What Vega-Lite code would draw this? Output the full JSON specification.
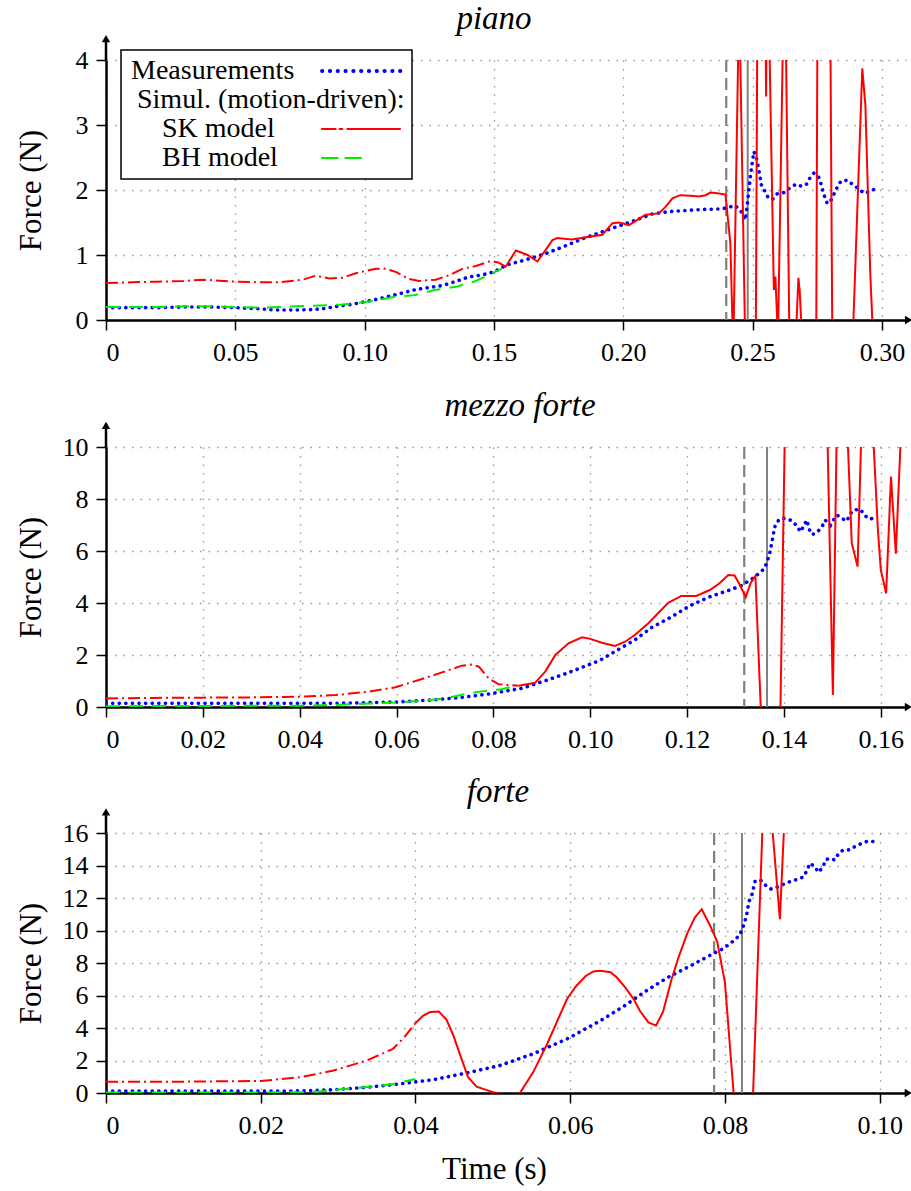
{
 "$schema": "https://vega.github.io/schema/vega-lite/v6.json",
 "padding": {"left": 15, "top": 2, "right": 2, "bottom": 2},
 "background": "white",
 "datasets": {
  "p_meas": [{"t":0,"F":0.19},{"t":0.01,"F":0.19},{"t":0.02,"F":0.19},{"t":0.03,"F":0.2},{"t":0.04,"F":0.2},{"t":0.05,"F":0.19},{"t":0.06,"F":0.17},{"t":0.065,"F":0.155},{"t":0.07,"F":0.155},{"t":0.075,"F":0.155},{"t":0.08,"F":0.16},{"t":0.085,"F":0.18},{"t":0.09,"F":0.215},{"t":0.095,"F":0.24},{"t":0.1,"F":0.28},{"t":0.105,"F":0.32},{"t":0.11,"F":0.37},{"t":0.115,"F":0.42},{"t":0.12,"F":0.47},{"t":0.125,"F":0.5},{"t":0.13,"F":0.53},{"t":0.135,"F":0.59},{"t":0.14,"F":0.66},{"t":0.145,"F":0.69},{"t":0.15,"F":0.74},{"t":0.155,"F":0.85},{"t":0.16,"F":0.9},{"t":0.165,"F":0.96},{"t":0.17,"F":1.02},{"t":0.175,"F":1.1},{"t":0.18,"F":1.18},{"t":0.185,"F":1.26},{"t":0.19,"F":1.33},{"t":0.1935,"F":1.38},{"t":0.2,"F":1.47},{"t":0.205,"F":1.54},{"t":0.211,"F":1.63},{"t":0.218,"F":1.67},{"t":0.2305,"F":1.7},{"t":0.2382,"F":1.71},{"t":0.2433,"F":1.76},{"t":0.246,"F":1.65},{"t":0.2472,"F":1.54},{"t":0.2485,"F":1.97},{"t":0.2491,"F":2.2},{"t":0.2498,"F":2.41},{"t":0.2505,"F":2.59},{"t":0.2514,"F":2.51},{"t":0.2524,"F":2.31},{"t":0.2534,"F":2.08},{"t":0.255,"F":1.96},{"t":0.2562,"F":1.87},{"t":0.2578,"F":1.86},{"t":0.2595,"F":1.94},{"t":0.262,"F":1.96},{"t":0.2647,"F":2.04},{"t":0.2668,"F":2.09},{"t":0.2687,"F":2.06},{"t":0.2707,"F":2.08},{"t":0.2719,"F":2.17},{"t":0.2737,"F":2.26},{"t":0.2755,"F":2.2},{"t":0.2764,"F":2.1},{"t":0.2771,"F":1.99},{"t":0.2779,"F":1.89},{"t":0.2789,"F":1.79},{"t":0.2804,"F":1.85},{"t":0.2816,"F":1.95},{"t":0.2828,"F":2.05},{"t":0.2842,"F":2.14},{"t":0.2868,"F":2.15},{"t":0.2888,"F":2.08},{"t":0.291,"F":2.02},{"t":0.293,"F":1.95},{"t":0.2955,"F":1.98},{"t":0.298,"F":2.03}],
  "p_sk": [{"t":0,"F":0.57,"phase":"pre"},{"t":0.01,"F":0.58,"phase":"pre"},{"t":0.02,"F":0.59,"phase":"pre"},{"t":0.03,"F":0.6,"phase":"pre"},{"t":0.0375,"F":0.62,"phase":"pre"},{"t":0.05,"F":0.59,"phase":"pre"},{"t":0.06,"F":0.58,"phase":"pre"},{"t":0.067,"F":0.58,"phase":"pre"},{"t":0.076,"F":0.62,"phase":"pre"},{"t":0.081,"F":0.68,"phase":"pre"},{"t":0.0864,"F":0.64,"phase":"pre"},{"t":0.0915,"F":0.65,"phase":"pre"},{"t":0.0966,"F":0.72,"phase":"pre"},{"t":0.1044,"F":0.79,"phase":"pre"},{"t":0.108,"F":0.79,"phase":"pre"},{"t":0.112,"F":0.74,"phase":"pre"},{"t":0.1172,"F":0.63,"phase":"pre"},{"t":0.121,"F":0.6,"phase":"pre"},{"t":0.1275,"F":0.62,"phase":"pre"},{"t":0.1327,"F":0.69,"phase":"pre"},{"t":0.138,"F":0.79,"phase":"pre"},{"t":0.143,"F":0.83,"phase":"pre"},{"t":0.1488,"F":0.91,"phase":"pre"},{"t":0.152,"F":0.88,"phase":"pre"},
   {"t":0.152,"F":0.88,"phase":"post"},{"t":0.1545,"F":0.82,"phase":"post"},{"t":0.1585,"F":1.07,"phase":"post"},{"t":0.163,"F":1.0,"phase":"post"},{"t":0.1668,"F":0.9,"phase":"post"},{"t":0.17,"F":1.08,"phase":"post"},{"t":0.1726,"F":1.23,"phase":"post"},{"t":0.1745,"F":1.26,"phase":"post"},{"t":0.18,"F":1.24,"phase":"post"},{"t":0.185,"F":1.27,"phase":"post"},{"t":0.1919,"F":1.31,"phase":"post"},{"t":0.1958,"F":1.49,"phase":"post"},{"t":0.1983,"F":1.5,"phase":"post"},{"t":0.2022,"F":1.46,"phase":"post"},{"t":0.2086,"F":1.62,"phase":"post"},{"t":0.2138,"F":1.64,"phase":"post"},{"t":0.2163,"F":1.74,"phase":"post"},{"t":0.219,"F":1.87,"phase":"post"},{"t":0.222,"F":1.92,"phase":"post"},{"t":0.226,"F":1.91,"phase":"post"},{"t":0.2292,"F":1.9,"phase":"post"},{"t":0.2318,"F":1.92,"phase":"post"},{"t":0.2337,"F":1.96,"phase":"post"},{"t":0.2363,"F":1.95,"phase":"post"},{"t":0.2395,"F":1.93,"phase":"post"},{"t":0.2414,"F":1.18,"phase":"post"},{"t":0.2425,"F":-0.5,"phase":"post"},{"t":0.2448,"F":5,"phase":"post"},{"t":0.2472,"F":-0.5,"phase":"post"},{"t":0.2512,"F":-0.5,"phase":"post"},{"t":0.252,"F":6,"phase":"post"},{"t":0.2547,"F":6,"phase":"post"},{"t":0.2552,"F":3.44,"phase":"post"},{"t":0.2557,"F":6,"phase":"post"},{"t":0.2582,"F":0.46,"phase":"post"},{"t":0.2588,"F":0.67,"phase":"post"},{"t":0.2598,"F":-0.3,"phase":"post"},{"t":0.2618,"F":4.5,"phase":"post"},{"t":0.2628,"F":4.5,"phase":"post"},{"t":0.2642,"F":-0.2,"phase":"post"},{"t":0.2668,"F":-0.2,"phase":"post"},{"t":0.2677,"F":0.65,"phase":"post"},{"t":0.2682,"F":0.45,"phase":"post"},{"t":0.269,"F":-0.2,"phase":"post"},{"t":0.2746,"F":-0.2,"phase":"post"},{"t":0.2752,"F":6,"phase":"post"},{"t":0.2798,"F":6,"phase":"post"},{"t":0.2808,"F":-0.2,"phase":"post"},{"t":0.2888,"F":-0.2,"phase":"post"},{"t":0.2924,"F":3.87,"phase":"post"},{"t":0.2936,"F":3.3,"phase":"post"},{"t":0.2955,"F":0.7,"phase":"post"},{"t":0.2965,"F":-0.2,"phase":"post"}],
  "p_bh": [{"t":0,"F":0.2},{"t":0.01,"F":0.2},{"t":0.02,"F":0.2},{"t":0.03,"F":0.21},{"t":0.04,"F":0.21},{"t":0.05,"F":0.2},{"t":0.06,"F":0.19},{"t":0.067,"F":0.2},{"t":0.076,"F":0.215},{"t":0.0864,"F":0.23},{"t":0.0915,"F":0.24},{"t":0.101,"F":0.28},{"t":0.112,"F":0.36},{"t":0.119,"F":0.38},{"t":0.127,"F":0.46},{"t":0.1353,"F":0.51},{"t":0.143,"F":0.6},{"t":0.1494,"F":0.72},{"t":0.153,"F":0.79}],
  "p_ev": [{"t":0.2398,"kind":"dashed"},{"t":0.2481,"kind":"solid"}],
  "p_ax": [{"t":0,"F":4,"end":"y0"},{"t":0,"F":4.28,"end":"y1"},{"t":0,"F":4.33,"end":"ytip"},{"t":0.3103,"F":0,"end":"xtip"}],
  "m_meas": [{"t":0,"F":0.14},{"t":0.01,"F":0.14},{"t":0.02,"F":0.14},{"t":0.03,"F":0.14},{"t":0.04,"F":0.14},{"t":0.0474,"F":0.14},{"t":0.0543,"F":0.17},{"t":0.0598,"F":0.19},{"t":0.0673,"F":0.27},{"t":0.0735,"F":0.37},{"t":0.079,"F":0.5},{"t":0.0859,"F":0.72},{"t":0.0907,"F":1.01},{"t":0.0955,"F":1.32},{"t":0.101,"F":1.72},{"t":0.1024,"F":1.84},{"t":0.1092,"F":2.58},{"t":0.1127,"F":3.06},{"t":0.1168,"F":3.47},{"t":0.1206,"F":3.9},{"t":0.1247,"F":4.24},{"t":0.1288,"F":4.5},{"t":0.1312,"F":4.67},{"t":0.1339,"F":4.99},{"t":0.136,"F":5.33},{"t":0.137,"F":5.85},{"t":0.1376,"F":6.42},{"t":0.1381,"F":6.93},{"t":0.139,"F":7.22},{"t":0.1403,"F":7.26},{"t":0.1416,"F":7.17},{"t":0.1427,"F":6.96},{"t":0.1434,"F":6.74},{"t":0.1441,"F":6.96},{"t":0.1447,"F":7.19},{"t":0.1451,"F":6.91},{"t":0.1456,"F":6.65},{"t":0.1463,"F":6.65},{"t":0.1473,"F":6.81},{"t":0.148,"F":6.99},{"t":0.1485,"F":7.19},{"t":0.1496,"F":6.99},{"t":0.1502,"F":7.19},{"t":0.151,"F":7.38},{"t":0.1519,"F":7.26},{"t":0.153,"F":7.15},{"t":0.1535,"F":7.38},{"t":0.1544,"F":7.58},{"t":0.1558,"F":7.6},{"t":0.1567,"F":7.36},{"t":0.1578,"F":7.22},{"t":0.159,"F":7.32}],
  "m_sk": [{"t":0,"F":0.33,"phase":"pre"},{"t":0.01,"F":0.35,"phase":"pre"},{"t":0.02,"F":0.36,"phase":"pre"},{"t":0.03,"F":0.37,"phase":"pre"},{"t":0.04,"F":0.4,"phase":"pre"},{"t":0.0474,"F":0.46,"phase":"pre"},{"t":0.0543,"F":0.59,"phase":"pre"},{"t":0.0598,"F":0.76,"phase":"pre"},{"t":0.0646,"F":1.04,"phase":"pre"},{"t":0.0694,"F":1.33,"phase":"pre"},{"t":0.0735,"F":1.59,"phase":"pre"},{"t":0.0756,"F":1.64,"phase":"pre"},{"t":0.077,"F":1.55,"phase":"pre"},{"t":0.079,"F":1.1,"phase":"pre"},{"t":0.0811,"F":0.87,"phase":"pre"},{"t":0.0852,"F":0.82,"phase":"pre"},
   {"t":0.0852,"F":0.82,"phase":"post"},{"t":0.0886,"F":0.93,"phase":"post"},{"t":0.0907,"F":1.36,"phase":"post"},{"t":0.0928,"F":2.0,"phase":"post"},{"t":0.0955,"F":2.45,"phase":"post"},{"t":0.0983,"F":2.68,"phase":"post"},{"t":0.1,"F":2.62,"phase":"post"},{"t":0.1024,"F":2.47,"phase":"post"},{"t":0.1051,"F":2.35,"phase":"post"},{"t":0.1072,"F":2.51,"phase":"post"},{"t":0.1092,"F":2.77,"phase":"post"},{"t":0.112,"F":3.22,"phase":"post"},{"t":0.1161,"F":4.01,"phase":"post"},{"t":0.1188,"F":4.27,"phase":"post"},{"t":0.1219,"F":4.27,"phase":"post"},{"t":0.1247,"F":4.5,"phase":"post"},{"t":0.1267,"F":4.76,"phase":"post"},{"t":0.1285,"F":5.08,"phase":"post"},{"t":0.1298,"F":5.06,"phase":"post"},{"t":0.1309,"F":4.69,"phase":"post"},{"t":0.1321,"F":4.22,"phase":"post"},{"t":0.1331,"F":4.76,"phase":"post"},{"t":0.1341,"F":5.04,"phase":"post"},{"t":0.1354,"F":-0.9,"phase":"post"},{"t":0.1392,"F":-0.9,"phase":"post"},{"t":0.1403,"F":12,"phase":"post"},{"t":0.1488,"F":12,"phase":"post"},{"t":0.1501,"F":0.46,"phase":"post"},{"t":0.151,"F":12,"phase":"post"},{"t":0.1528,"F":12,"phase":"post"},{"t":0.154,"F":6.3,"phase":"post"},{"t":0.1552,"F":5.4,"phase":"post"},{"t":0.1562,"F":12,"phase":"post"},{"t":0.158,"F":12,"phase":"post"},{"t":0.1594,"F":6.8,"phase":"post"},{"t":0.16,"F":5.27,"phase":"post"},{"t":0.1611,"F":4.37,"phase":"post"},{"t":0.1621,"F":8.86,"phase":"post"},{"t":0.1631,"F":5.9,"phase":"post"},{"t":0.1645,"F":12,"phase":"post"}],
  "m_bh": [{"t":0,"F":0.03},{"t":0.02,"F":0.04},{"t":0.04,"F":0.05},{"t":0.0474,"F":0.08},{"t":0.0543,"F":0.13},{"t":0.0598,"F":0.17},{"t":0.0646,"F":0.23},{"t":0.0701,"F":0.33},{"t":0.0742,"F":0.5},{"t":0.0783,"F":0.62},{"t":0.0817,"F":0.68},{"t":0.0852,"F":0.85}],
  "m_ev": [{"t":0.1318,"kind":"dashed"},{"t":0.1365,"kind":"solid"}],
  "m_ax": [{"t":0,"F":10,"end":"y0"},{"t":0,"F":10.7,"end":"y1"},{"t":0,"F":10.83,"end":"ytip"},{"t":0.1657,"F":0,"end":"xtip"}],
  "f_meas": [{"t":0,"F":0.12},{"t":0.01,"F":0.12},{"t":0.02,"F":0.12},{"t":0.0251,"F":0.13},{"t":0.0294,"F":0.2},{"t":0.0337,"F":0.35},{"t":0.038,"F":0.56},{"t":0.0423,"F":0.82},{"t":0.0466,"F":1.23},{"t":0.0509,"F":1.69},{"t":0.0552,"F":2.41},{"t":0.0596,"F":3.33},{"t":0.0639,"F":4.45},{"t":0.0669,"F":5.33},{"t":0.0699,"F":6.31},{"t":0.0725,"F":7.08},{"t":0.0755,"F":7.82},{"t":0.0781,"F":8.48},{"t":0.0798,"F":8.89},{"t":0.0811,"F":9.36},{"t":0.0819,"F":9.71},{"t":0.0825,"F":10.43},{"t":0.0828,"F":10.95},{"t":0.0831,"F":11.77},{"t":0.0835,"F":12.22},{"t":0.0837,"F":12.64},{"t":0.0839,"F":13.04},{"t":0.0846,"F":13.1},{"t":0.0852,"F":12.8},{"t":0.0859,"F":12.55},{"t":0.0869,"F":12.7},{"t":0.0878,"F":12.9},{"t":0.0886,"F":13.04},{"t":0.0895,"F":13.17},{"t":0.0902,"F":13.31},{"t":0.0906,"F":13.72},{"t":0.091,"F":14.14},{"t":0.0916,"F":13.93},{"t":0.0921,"F":13.58},{"t":0.0927,"F":13.93},{"t":0.093,"F":14.34},{"t":0.0935,"F":14.44},{"t":0.0942,"F":14.34},{"t":0.0947,"F":14.75},{"t":0.0953,"F":14.96},{"t":0.0961,"F":14.96},{"t":0.0968,"F":15.17},{"t":0.0977,"F":15.37},{"t":0.0985,"F":15.51},{"t":0.0993,"F":15.47}],
  "f_sk": [{"t":0,"F":0.7,"phase":"pre"},{"t":0.01,"F":0.7,"phase":"pre"},{"t":0.02,"F":0.74,"phase":"pre"},{"t":0.0251,"F":0.97,"phase":"pre"},{"t":0.0294,"F":1.38,"phase":"pre"},{"t":0.0337,"F":2.0,"phase":"pre"},{"t":0.0371,"F":2.72,"phase":"pre"},{"t":0.0385,"F":3.4,"phase":"pre"},{"t":0.04,"F":4.3,"phase":"pre"},
   {"t":0.04,"F":4.3,"phase":"post"},{"t":0.041,"F":4.77,"phase":"post"},{"t":0.0419,"F":4.98,"phase":"post"},{"t":0.043,"F":5.02,"phase":"post"},{"t":0.044,"F":4.52,"phase":"post"},{"t":0.0449,"F":3.54,"phase":"post"},{"t":0.0458,"F":2.3,"phase":"post"},{"t":0.0468,"F":0.97,"phase":"post"},{"t":0.0479,"F":0.39,"phase":"post"},{"t":0.0501,"F":0.04,"phase":"post"},{"t":0.0505,"F":0,"phase":"post"},{"t":0.052,"F":-0.3,"phase":"post"},{"t":0.0535,"F":0,"phase":"post"},{"t":0.0552,"F":1.27,"phase":"post"},{"t":0.057,"F":3.0,"phase":"post"},{"t":0.0596,"F":5.8,"phase":"post"},{"t":0.0608,"F":6.6,"phase":"post"},{"t":0.062,"F":7.2,"phase":"post"},{"t":0.063,"F":7.48,"phase":"post"},{"t":0.0639,"F":7.53,"phase":"post"},{"t":0.0652,"F":7.43,"phase":"post"},{"t":0.066,"F":7.12,"phase":"post"},{"t":0.0671,"F":6.5,"phase":"post"},{"t":0.0682,"F":5.78,"phase":"post"},{"t":0.069,"F":5.06,"phase":"post"},{"t":0.0701,"F":4.35,"phase":"post"},{"t":0.0711,"F":4.15,"phase":"post"},{"t":0.072,"F":5.0,"phase":"post"},{"t":0.0731,"F":7.0,"phase":"post"},{"t":0.074,"F":8.35,"phase":"post"},{"t":0.0751,"F":9.79,"phase":"post"},{"t":0.0761,"F":10.8,"phase":"post"},{"t":0.077,"F":11.31,"phase":"post"},{"t":0.0781,"F":10.28,"phase":"post"},{"t":0.079,"F":9.3,"phase":"post"},{"t":0.08,"F":6.79,"phase":"post"},{"t":0.0812,"F":-0.5,"phase":"post"},{"t":0.0836,"F":-0.5,"phase":"post"},{"t":0.0849,"F":17,"phase":"post"},{"t":0.086,"F":17,"phase":"post"},{"t":0.0871,"F":10.7,"phase":"post"},{"t":0.0877,"F":17,"phase":"post"},{"t":0.0885,"F":20,"phase":"post"}],
  "f_bh": [{"t":0,"F":0.03},{"t":0.02,"F":0.03},{"t":0.0251,"F":0.05},{"t":0.0272,"F":0.08},{"t":0.0294,"F":0.18},{"t":0.032,"F":0.29},{"t":0.0346,"F":0.41},{"t":0.0371,"F":0.55},{"t":0.04,"F":0.86}],
  "f_ev": [{"t":0.0786,"kind":"dashed"},{"t":0.0822,"kind":"solid"}],
  "f_ax": [{"t":0,"F":16,"end":"y0"},{"t":0,"F":17.1,"end":"y1"},{"t":0,"F":17.3,"end":"ytip"},{"t":0.1037,"F":0,"end":"xtip"}]
 },
 "vconcat": [
  {
   "width": 800, "height": 260,
   "title": {"text": "piano", "dx": -12},
   "encoding": {"x": {"field": "t", "type": "quantitative", "scale": {"domain": [0, 0.3093], "nice": false, "zero": false}, "axis": {"values": [0, 0.05, 0.1, 0.15, 0.2, 0.25, 0.3], "tickCount": 30, "labelExpr": "datum.value === 0 ? '0' : format(datum.value, '.2f')", "title": null}}},
   "layer": [
    {"data": {"name": "p_ev"}, "transform": [{"filter": "datum.kind === 'dashed'"}], "mark": {"type": "rule", "color": "#808080", "strokeWidth": 2.2, "strokeDash": [12, 6]}},
    {"data": {"name": "p_ev"}, "transform": [{"filter": "datum.kind === 'solid'"}], "mark": {"type": "rule", "color": "#808080", "strokeWidth": 2}},
    {"data": {"name": "p_meas"}, "mark": {"type": "line", "clip": true, "strokeWidth": 3.6, "strokeDash": [0.1, 6.5], "strokeCap": "round"},
     "encoding": {"y": {"field": "F", "type": "quantitative", "scale": {"domain": [0, 4], "nice": false, "zero": false}, "axis": {"values": [0, 1, 2, 3, 4], "tickCount": 30, "format": "d", "title": "Force (N)"}},
      "color": {"datum": "Measurements", "type": "nominal",
       "scale": {"domain": ["Measurements", "Simul. (motion-driven):", "SK model", "BH model"], "range": ["#0000ff", "#ffffff", "#ff0000", "#00ee00"]},
       "legend": {"orient": "none", "legendX": 15, "legendY": -10, "title": null,
        "labelFont": "Liberation Serif", "labelFontSize": 28, "labelColor": "black", "labelLimit": 600,
        "symbolSize": 6084, "symbolType": "stroke", "symbolStrokeWidth": 2.2,
        "clipHeight": 28, "rowPadding": 1, "padding": 7, "fillColor": "white", "strokeColor": "black",
        "encode": {
         "labels": {"update": {
          "x": {"signal": "datum.value === 'SK model' || datum.value === 'BH model' ? 34 : datum.value === 'Simul. (motion-driven):' ? 9 : 3"}}},
         "symbols": {"update": {
          "x": {"signal": "datum.value === 'Simul. (motion-driven):' ? 280 : 233"},
          "shape": {"signal": "datum.value === 'SK model' ? 'M-1,0H-0.65M-0.55,0H-0.48M-0.35,0H1' : datum.value === 'BH model' ? 'M-1,0H-0.6M-0.4,0H0' : datum.value === 'Measurements' ? 'M-1,0h0.01M-0.8,0h0.01M-0.6,0h0.01M-0.4,0h0.01M-0.2,0h0.01M0,0h0.01M0.2,0h0.01M0.4,0h0.01M0.6,0h0.01M0.8,0h0.01M1,0h0.01' : 'stroke'"},
          "strokeWidth": {"signal": "datum.value === 'Measurements' ? 3.8 : 2.2"},
          "strokeCap": {"value": "round"},
          "strokeDash": {"value": [1, 0]}}},
         "legend": {"update": {"strokeWidth": {"value": 1.5}}}
        }}}}},
    {"data": {"name": "p_sk"}, "transform": [{"filter": "datum.phase === 'pre'"}], "mark": {"type": "line", "clip": true, "strokeWidth": 2, "strokeDash": [12, 4, 2, 4]},
     "encoding": {"y": {"field": "F", "type": "quantitative", "scale": {"domain": [0, 4], "nice": false, "zero": false}},
      "color": {"datum": "SK model", "type": "nominal", "scale": {"domain": ["Measurements", "Simul. (motion-driven):", "SK model", "BH model"], "range": ["#0000ff", "#ffffff", "#ff0000", "#00ee00"]}}}},
    {"data": {"name": "p_sk"}, "transform": [{"filter": "datum.phase === 'post'"}], "mark": {"type": "line", "clip": true, "strokeWidth": 2},
     "encoding": {"y": {"field": "F", "type": "quantitative", "scale": {"domain": [0, 4], "nice": false, "zero": false}},
      "color": {"datum": "SK model", "type": "nominal", "scale": {"domain": ["Measurements", "Simul. (motion-driven):", "SK model", "BH model"], "range": ["#0000ff", "#ffffff", "#ff0000", "#00ee00"]}}}},
    {"data": {"name": "p_bh"}, "mark": {"type": "line", "clip": true, "strokeWidth": 2, "strokeDash": [14, 9]},
     "encoding": {"y": {"field": "F", "type": "quantitative", "scale": {"domain": [0, 4], "nice": false, "zero": false}},
      "color": {"datum": "BH model", "type": "nominal", "scale": {"domain": ["Measurements", "Simul. (motion-driven):", "SK model", "BH model"], "range": ["#0000ff", "#ffffff", "#ff0000", "#00ee00"]}}}},
    {"data": {"name": "p_ax"}, "transform": [{"filter": "datum.end === 'y0' || datum.end === 'y1'"}], "mark": {"type": "line", "color": "black", "strokeWidth": 2.5},
     "encoding": {"y": {"field": "F", "type": "quantitative"}}},
    {"data": {"name": "p_ax"}, "transform": [{"filter": "datum.end === 'ytip'"}], "mark": {"type": "point", "shape": "triangle-up", "filled": true, "color": "black", "opacity": 1, "size": 70},
     "encoding": {"y": {"field": "F", "type": "quantitative"}}},
    {"data": {"name": "p_ax"}, "transform": [{"filter": "datum.end === 'xtip'"}], "mark": {"type": "point", "shape": "triangle-right", "filled": true, "color": "black", "opacity": 1, "size": 70},
     "encoding": {"y": {"field": "F", "type": "quantitative"}}}
   ]
  },
  {
   "width": 800, "height": 260,
   "title": {"text": "mezzo forte", "dx": 14},
   "encoding": {"x": {"field": "t", "type": "quantitative", "scale": {"domain": [0, 0.1652], "nice": false, "zero": false}, "axis": {"values": [0, 0.02, 0.04, 0.06, 0.08, 0.1, 0.12, 0.14, 0.16], "tickCount": 30, "labelExpr": "datum.value === 0 ? '0' : format(datum.value, '.2f')", "title": null}}},
   "layer": [
    {"data": {"name": "m_ev"}, "transform": [{"filter": "datum.kind === 'dashed'"}], "mark": {"type": "rule", "color": "#808080", "strokeWidth": 2.2, "strokeDash": [12, 6]}},
    {"data": {"name": "m_ev"}, "transform": [{"filter": "datum.kind === 'solid'"}], "mark": {"type": "rule", "color": "#808080", "strokeWidth": 2}},
    {"data": {"name": "m_meas"}, "mark": {"type": "line", "clip": true, "color": "#0000ff", "strokeWidth": 3.6, "strokeDash": [0.1, 6.5], "strokeCap": "round"},
     "encoding": {"y": {"field": "F", "type": "quantitative", "scale": {"domain": [0, 10], "nice": false, "zero": false}, "axis": {"values": [0, 2, 4, 6, 8, 10], "tickCount": 30, "format": "d", "title": "Force (N)"}}}},
    {"data": {"name": "m_sk"}, "transform": [{"filter": "datum.phase === 'pre'"}], "mark": {"type": "line", "clip": true, "color": "#ff0000", "strokeWidth": 2, "strokeDash": [12, 4, 2, 4]},
     "encoding": {"y": {"field": "F", "type": "quantitative", "scale": {"domain": [0, 10], "nice": false, "zero": false}}}},
    {"data": {"name": "m_sk"}, "transform": [{"filter": "datum.phase === 'post'"}], "mark": {"type": "line", "clip": true, "color": "#ff0000", "strokeWidth": 2},
     "encoding": {"y": {"field": "F", "type": "quantitative", "scale": {"domain": [0, 10], "nice": false, "zero": false}}}},
    {"data": {"name": "m_bh"}, "mark": {"type": "line", "clip": true, "color": "#00ee00", "strokeWidth": 2, "strokeDash": [14, 9]},
     "encoding": {"y": {"field": "F", "type": "quantitative", "scale": {"domain": [0, 10], "nice": false, "zero": false}}}},
    {"data": {"name": "m_ax"}, "transform": [{"filter": "datum.end === 'y0' || datum.end === 'y1'"}], "mark": {"type": "line", "color": "black", "strokeWidth": 2.5},
     "encoding": {"y": {"field": "F", "type": "quantitative"}}},
    {"data": {"name": "m_ax"}, "transform": [{"filter": "datum.end === 'ytip'"}], "mark": {"type": "point", "shape": "triangle-up", "filled": true, "color": "black", "opacity": 1, "size": 70},
     "encoding": {"y": {"field": "F", "type": "quantitative"}}},
    {"data": {"name": "m_ax"}, "transform": [{"filter": "datum.end === 'xtip'"}], "mark": {"type": "point", "shape": "triangle-right", "filled": true, "color": "black", "opacity": 1, "size": 70},
     "encoding": {"y": {"field": "F", "type": "quantitative"}}}
   ]
  },
  {
   "width": 800, "height": 260,
   "title": {"text": "forte", "dx": -8},
   "encoding": {"x": {"field": "t", "type": "quantitative", "scale": {"domain": [0, 0.1034], "nice": false, "zero": false}, "axis": {"values": [0, 0.02, 0.04, 0.06, 0.08, 0.1], "tickCount": 30, "labelExpr": "datum.value === 0 ? '0' : format(datum.value, '.2f')", "title": "Time (s)", "titleX": 388, "titlePadding": 16}}},
   "layer": [
    {"data": {"name": "f_ev"}, "transform": [{"filter": "datum.kind === 'dashed'"}], "mark": {"type": "rule", "color": "#808080", "strokeWidth": 2.2, "strokeDash": [12, 6]}},
    {"data": {"name": "f_ev"}, "transform": [{"filter": "datum.kind === 'solid'"}], "mark": {"type": "rule", "color": "#808080", "strokeWidth": 2}},
    {"data": {"name": "f_meas"}, "mark": {"type": "line", "clip": true, "color": "#0000ff", "strokeWidth": 3.6, "strokeDash": [0.1, 6.5], "strokeCap": "round"},
     "encoding": {"y": {"field": "F", "type": "quantitative", "scale": {"domain": [0, 16], "nice": false, "zero": false}, "axis": {"values": [0, 2, 4, 6, 8, 10, 12, 14, 16], "tickCount": 30, "format": "d", "title": "Force (N)"}}}},
    {"data": {"name": "f_sk"}, "transform": [{"filter": "datum.phase === 'pre'"}], "mark": {"type": "line", "clip": true, "color": "#ff0000", "strokeWidth": 2, "strokeDash": [12, 4, 2, 4]},
     "encoding": {"y": {"field": "F", "type": "quantitative", "scale": {"domain": [0, 16], "nice": false, "zero": false}}}},
    {"data": {"name": "f_sk"}, "transform": [{"filter": "datum.phase === 'post'"}], "mark": {"type": "line", "clip": true, "color": "#ff0000", "strokeWidth": 2},
     "encoding": {"y": {"field": "F", "type": "quantitative", "scale": {"domain": [0, 16], "nice": false, "zero": false}}}},
    {"data": {"name": "f_bh"}, "mark": {"type": "line", "clip": true, "color": "#00ee00", "strokeWidth": 2, "strokeDash": [14, 9]},
     "encoding": {"y": {"field": "F", "type": "quantitative", "scale": {"domain": [0, 16], "nice": false, "zero": false}}}},
    {"data": {"name": "f_ax"}, "transform": [{"filter": "datum.end === 'y0' || datum.end === 'y1'"}], "mark": {"type": "line", "color": "black", "strokeWidth": 2.5},
     "encoding": {"y": {"field": "F", "type": "quantitative"}}},
    {"data": {"name": "f_ax"}, "transform": [{"filter": "datum.end === 'ytip'"}], "mark": {"type": "point", "shape": "triangle-up", "filled": true, "color": "black", "opacity": 1, "size": 70},
     "encoding": {"y": {"field": "F", "type": "quantitative"}}},
    {"data": {"name": "f_ax"}, "transform": [{"filter": "datum.end === 'xtip'"}], "mark": {"type": "point", "shape": "triangle-right", "filled": true, "color": "black", "opacity": 1, "size": 70},
     "encoding": {"y": {"field": "F", "type": "quantitative"}}}
   ]
  }
 ],
 "spacing": 24,
 "resolve": {"scale": {"x": "independent", "y": "independent", "color": "independent"}, "legend": {"color": "independent"}},
 "config": {
  "view": {"stroke": null},
  "font": "Liberation Serif",
  "axis": {"domainColor": "black", "domainWidth": 2.5, "tickColor": "black", "tickWidth": 1.5, "tickSize": 10,
   "labelFont": "Liberation Serif", "labelFontSize": 26, "labelColor": "black", "labelPadding": 8, "labelOverlap": false,
   "titleFont": "Liberation Serif", "titleFontSize": 31, "titleFontWeight": "normal", "titleColor": "black",
   "grid": true, "gridColor": "#999999", "gridDash": [1.5, 7], "gridWidth": 1.3},
  "axisY": {"titlePadding": 11, "minExtent": 48, "maxExtent": 48},
  "axisX": {"labelPadding": 9, "titlePadding": 11},
  "title": {"font": "Liberation Serif", "fontSize": 33, "fontStyle": "italic", "fontWeight": "normal", "color": "black", "offset": -1, "baseline": "alphabetic", "anchor": "middle", "frame": "group"}
 }
}
